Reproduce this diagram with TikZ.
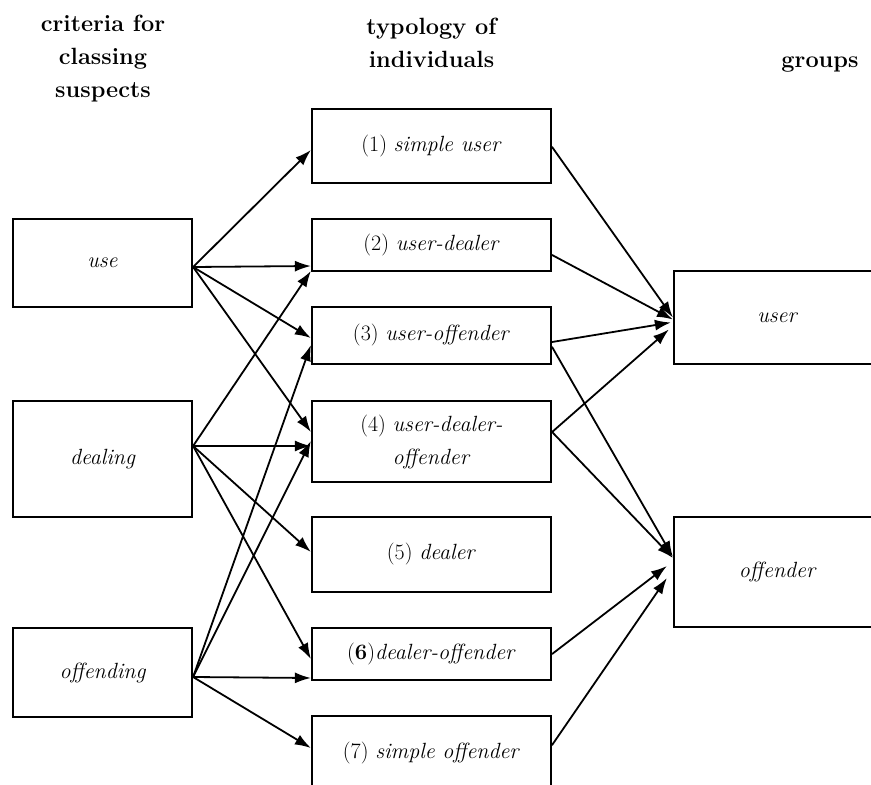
\documentclass[tikz,border=0pt]{standalone}
\usetikzlibrary{arrows.meta,calc}
\begin{document}
\begin{tikzpicture}[x=1pt,y=-1pt,line cap=round,
  every node/.style={font=\fontsize{22}{33}\selectfont},
  box/.style={draw,line width=2.2pt,line join=miter,inner sep=0pt,align=center},
  crit/.style={box,minimum width=179pt},
  kind/.style={box,minimum width=239pt},
  grp/.style={box,minimum width=206pt},
  head/.style={font=\fontsize{23.5}{33}\selectfont\bfseries,align=center,inner sep=0pt},
  link/.style={line width=1.8pt,-{Latex[length=16pt,width=11pt]}}]
  \useasboundingbox (0,0) rectangle (871,785);
  \clip (0,0) rectangle (871,785);
  % column heads
  \node[head,anchor=north] (hcrit) at (103,15) {criteria for\\classing\\suspects};
  \node[head,anchor=north] (hkind) at (431.5,18) {typology of\\individuals};
  \node[head,anchor=base] (hgrp) at (820,67) {groups};
  % criteria
  \node[crit,minimum height=88pt] (use) at (102.5,263) {\itshape use};
  \node[crit,minimum height=116pt] (dealing) at (102.5,459) {\itshape dealing};
  \node[crit,minimum height=89pt] (offending) at (102.5,672.5) {\itshape offending};
  % typology
  \node[kind,minimum height=74pt] (m1) at (431.5,146) {(1) \textit{simple user}};
  \node[kind,minimum height=52pt] (m2) at (431.5,245) {(2) \textit{user-dealer}};
  \node[kind,minimum height=57pt] (m3) at (431.5,335.5) {(3) \textit{user-offender}};
  \node[kind,minimum height=81pt] (m4) at (431.5,441.5) {(4) \textit{user-dealer-}\\\textit{offender}};
  \node[kind,minimum height=75pt] (m5) at (431.5,554.5) {(5) \textit{dealer}};
  \node[kind,minimum height=52pt] (m6) at (431.5,654) {(\textbf{6})\textit{dealer-offender}};
  \node[kind,minimum height=74pt] (m7) at (431.5,753) {(7) \textit{simple offender}};
  % groups
  \node[grp,minimum height=93pt] (user) at (777,317.5) {\itshape user};
  \node[grp,minimum height=110pt] (offender) at (777,572) {\itshape offender};
  % criteria -> typology
  \foreach \a/\da/\b/\db in {use/4/m1/4, use/4/m2/21, use/4/m3/2.5, use/4/m4/-9.5,
      dealing/-13/m2/26, dealing/-13/m4/4.5, dealing/-13/m5/-2.5, dealing/-13/m6/5,
      offending/4.5/m3/9.5, offending/4.5/m4/-0.5, offending/4.5/m6/24, offending/4.5/m7/-5}
    \draw[link] ($(\a.east)+(0,\da)$) -- ($(\b.west)+(0,\db)$);
  % typology -> groups
  \foreach \a/\da/\b/\bx/\by in {m1/1/user/0/0, m2/10/user/0/2, m3/6.5/user/-2/5, m4/-9.5/user/-4/12,
      m3/11.5/offender/0/-15, m4/-9.5/offender/0/-14, m6/0/offender/-6/-6, m7/-8/offender/-6/6}
    \draw[link] ($(\a.east)+(0,\da)$) -- ($(\b.west)+(\bx,\by)$);
\end{tikzpicture}
\end{document}
